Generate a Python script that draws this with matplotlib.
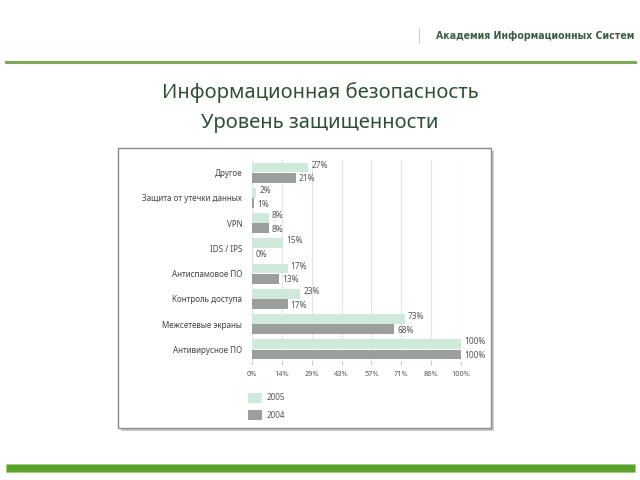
import matplotlib
matplotlib.use('Agg')
import matplotlib.pyplot as plt
from matplotlib.patches import Rectangle
import numpy as np

# данные
categories = ['Другое', 'Защита от утечки данных', 'VPN', 'IDS / IPS',
              'Антиспамовое ПО', 'Контроль доступа', 'Межсетевые экраны',
              'Антивирусное ПО']
values_2005 = [27, 2, 8, 15, 17, 23, 73, 100]
values_2004 = [21, 1, 8, 0, 13, 17, 68, 100]
tick_values = [0, 100 / 7, 200 / 7, 300 / 7, 400 / 7, 500 / 7, 600 / 7, 100]
tick_labels = ['0%', '14%', '29%', '43%', '57%', '71%', '86%', '100%']
series_names = ['2005', '2004']

c_2005 = '#cfe9da'
c_2004 = '#9a9f9c'
green_dark = '#2f4f35'

plt.rcParams['font.family'] = ['Noto Sans', 'DejaVu Sans']

fig = plt.figure(figsize=(6.4, 4.8), dpi=100)

def fx(px):
    return px / 640

def fy(py):
    return 1 - py / 480

# шапка
fig.add_artist(plt.Line2D([fx(6), fx(635)], [fy(62), fy(62)], color='#7eaa58', lw=2.2))
fig.add_artist(plt.Line2D([fx(419), fx(419)], [fy(28), fy(43)], color='#cccccc', lw=0.8))
fig.text(fx(634), fy(36), 'Академия Информационных Систем', ha='right', va='center',
         fontsize=7.6, fontweight='bold', fontstretch='condensed', family='DejaVu Sans',
         color='#3b5e45')

fig.text(0.5, fy(93), 'Информационная безопасность', ha='center', va='center',
         fontsize=14.5, color=green_dark)
fig.text(0.5, fy(123), 'Уровень защищенности', ha='center', va='center',
         fontsize=14.5, color=green_dark)

# рамка графика с тенью
fig.add_artist(Rectangle((fx(121), fy(431)), fx(373), 280 / 480, transform=fig.transFigure,
                         facecolor='#c8c8c8', edgecolor='none', zorder=0))
fig.add_artist(Rectangle((fx(118), fy(428)), fx(373), 280 / 480, transform=fig.transFigure,
                         facecolor='white', edgecolor='#8a8a8a', lw=1.0, zorder=1))

# нижняя зелёная полоса
fig.add_artist(Rectangle((fx(6), fy(472)), fx(629), 8 / 480, transform=fig.transFigure,
                         facecolor='#5aa22c', edgecolor='#9fd07a', lw=0.6, zorder=1))

ax = fig.add_axes([fx(252), fy(362), fx(461 - 252), 202 / 480], zorder=2)
ax.patch.set_alpha(0)

y = np.arange(len(categories))
h = 0.39
ax.barh(y - h / 2 - 0.01, values_2005, height=h, color=c_2005, zorder=2)
ax.barh(y + h / 2 + 0.01, values_2004, height=h, color=c_2004, zorder=2)

for i in range(len(categories)):
    ax.text(values_2005[i] + 1.5, y[i] - h / 2 - 0.1, f'{values_2005[i]}%',
            va='center', ha='left', fontsize=6, color='#555555')
    ax.text(values_2004[i] + 1.5, y[i] + h / 2 + 0.05, f'{values_2004[i]}%',
            va='center', ha='left', fontsize=6, color='#555555')

ax.set_xlim(0, 100)
ax.set_ylim(7.5, -0.5)
ax.set_yticks(y)
ax.set_yticklabels(categories, fontsize=5.8, color='#444444')
ax.set_xticks(tick_values)
ax.set_xticklabels(tick_labels, fontsize=5.3, color='#555555')
ax.tick_params(axis='y', length=0, pad=7)
ax.tick_params(axis='x', length=1.5, color='#aaaaaa', pad=5)
ax.grid(axis='x', color='#e4e4e4', lw=0.8, zorder=0)
for s in ax.spines.values():
    s.set_visible(False)

# легенда
leg_colors = [c_2005, c_2004]
for k, name in enumerate(series_names):
    top = 393 + k * 17
    fig.add_artist(Rectangle((fx(248), fy(top + 10)), fx(14), 10 / 480, transform=fig.transFigure,
                             facecolor=leg_colors[k], edgecolor='none', zorder=3))
    fig.text(fx(267), fy(top + 5), name, ha='left', va='center', fontsize=5.8, color='#555555')

fig.savefig('out.png', dpi=100)
